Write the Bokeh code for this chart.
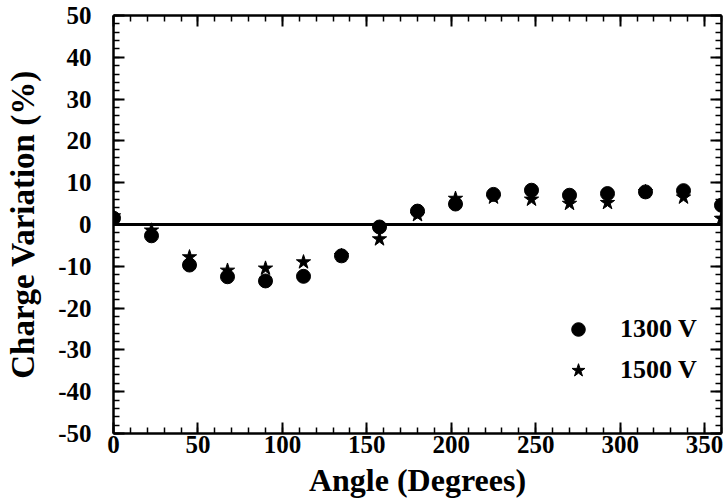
from bokeh.plotting import figure
from bokeh.models import (Range1d, LinearAxis, SingleIntervalTicker, Span,
                          Legend, LegendItem, PrintfTickFormatter,
                          CustomJSTickFormatter)
from bokeh.embed import file_html
from bokeh.resources import INLINE

# ---- data ----
angles = [0, 22.5, 45, 67.5, 90, 112.5, 135, 157.5, 180, 202.5, 225, 247.5,
          270, 292.5, 315, 337.5, 360]
v1300 = [1.5, -2.7, -9.7, -12.5, -13.5, -12.4, -7.5, -0.6, 3.2, 4.9, 7.2, 8.2,
         7.0, 7.4, 7.8, 8.1, 4.6]
v1500 = [2.0, -1.4, -7.8, -11.0, -10.5, -9.0, -7.5, -3.5, 2.3, 6.2, 6.5, 6.0,
         5.0, 5.2, 7.8, 6.5, 1.4]
series_names = ["1300 V", "1500 V"]
x_label = "Angle (Degrees)"
y_label = "Charge Variation (%)"

FONT = "Liberation Serif"

p = figure(width=725, height=500, output_backend="svg", toolbar_location=None,
           x_range=Range1d(0, 360), y_range=Range1d(-50, 50),
           min_border_left=113, min_border_right=4, min_border_top=15,
           min_border_bottom=67, x_axis_type=None, y_axis_type=None)
p.outline_line_color = None
p.background_fill_color = "white"
p.border_fill_color = "white"


def style_axis(ax, show_labels):
    ax.axis_line_width = 2.5
    ax.axis_line_color = "black"
    ax.major_tick_in = 11
    ax.major_tick_out = 0
    ax.minor_tick_in = 6
    ax.minor_tick_out = 0
    ax.major_tick_line_width = 2
    ax.minor_tick_line_width = 1.5
    ax.major_tick_line_color = "black"
    ax.minor_tick_line_color = "black"
    if show_labels:
        ax.formatter = PrintfTickFormatter(format="%d")
        ax.major_label_text_font = FONT
        ax.major_label_text_font_style = "bold"
        ax.major_label_text_font_size = "25px"
        ax.major_label_text_color = "black"
        ax.axis_label_text_font = FONT
        ax.axis_label_text_font_style = "bold"
        ax.axis_label_text_font_size = "32px"
        ax.axis_label_text_color = "black"
    else:
        ax.formatter = CustomJSTickFormatter(code="return ''")
        ax.major_label_standoff = 0


xt = SingleIntervalTicker(interval=50, num_minor_ticks=5)
yt = SingleIntervalTicker(interval=10, num_minor_ticks=5)

xb = LinearAxis(ticker=xt, axis_label=x_label)
style_axis(xb, True)
xb.major_label_standoff = 2
xb.axis_label_standoff = 6
p.add_layout(xb, "below")

yl = LinearAxis(ticker=yt, axis_label=y_label)
style_axis(yl, True)
yl.major_label_standoff = 22
yl.axis_label_standoff = 14
yl.axis_label_text_font_size = "33px"
p.add_layout(yl, "left")

xa = LinearAxis(ticker=xt)
style_axis(xa, False)
p.add_layout(xa, "above")

yr = LinearAxis(ticker=yt)
style_axis(yr, False)
p.add_layout(yr, "right")

p.xgrid.ticker = xt
p.ygrid.ticker = yt
for g in (p.xgrid, p.ygrid):
    g.grid_line_color = "black"
    g.grid_line_width = 1
    g.grid_line_dash = "1 2"

p.add_layout(Span(location=0, dimension="width", line_color="black",
                  line_width=3, level="underlay"))

r2 = p.scatter(angles, v1500, marker="star", size=15, color="black")
r1 = p.scatter(angles, v1300, marker="circle", size=14, color="black")

legend = Legend(items=[LegendItem(label=series_names[0], renderers=[r1]),
                       LegendItem(label=series_names[1], renderers=[r2])],
                location=(448, 46), padding=0, margin=0, spacing=7,
                glyph_width=34, glyph_height=34, label_height=34,
                label_standoff=25, border_line_color=None,
                background_fill_alpha=0,
                label_text_font=FONT, label_text_font_style="bold",
                label_text_font_size="26px", label_text_color="black")
p.add_layout(legend, "center")

open("out.html", "w").write(file_html(p, INLINE))
